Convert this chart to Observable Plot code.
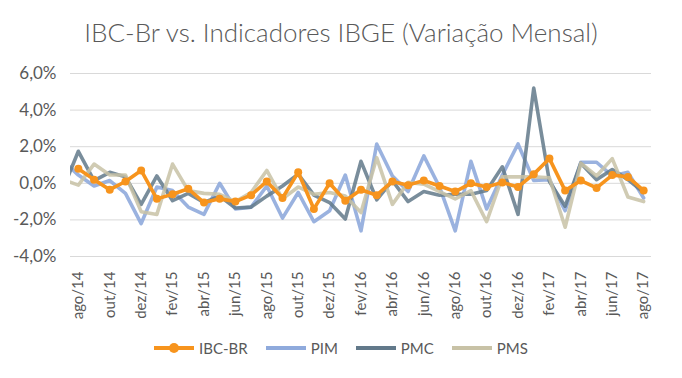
<!DOCTYPE html>
<html>
<head>
<meta charset="utf-8">
<script src="https://cdn.jsdelivr.net/npm/d3@7"></script>
<script src="https://cdn.jsdelivr.net/npm/@observablehq/plot@0.6"></script>
<style>
  html, body { margin: 0; padding: 0; background: #fff; }
  #wrap { position: relative; width: 682px; height: 378px; overflow: hidden; font-family: Lato, "Open Sans", sans-serif; color: #595959; }
  #title { position: absolute; left: 0; width: 682px; top: 16px; text-align: center; font-size: 26px; font-weight: 300; line-height: 32px; color: #595959; }
  #chart { position: absolute; left: 0; top: 55px; }
  #chart g[aria-label="y-axis tick label"] { font-size: 17px; }
  #chart g[aria-label="x-axis tick label"] { font-size: 15px; }
  #legend { position: absolute; left: 0; width: 682px; top: 338px; display: flex; justify-content: center; align-items: center; font-size: 15px; line-height: 20px; }
  .item { display: flex; align-items: center; margin: 0 9px; }
  .sw { position: relative; width: 40px; height: 4px; margin-right: 5px; }
  .dot { position: absolute; left: 15px; top: -3px; width: 10px; height: 10px; border-radius: 50%; }
</style>
</head>
<body>
<div id="wrap">
  <div id="title">IBC-Br vs. Indicadores IBGE (Variação Mensal)</div>
  <div id="chart"></div>
  <div id="legend"></div>
</div>
<script>
// Months (jul/14 only appears as the clipped start of PIM/PMC/PMS)
const months = ["jul/14","ago/14","set/14","out/14","nov/14","dez/14",
  "jan/15","fev/15","mar/15","abr/15","mai/15","jun/15","jul/15","ago/15","set/15","out/15","nov/15","dez/15",
  "jan/16","fev/16","mar/16","abr/16","mai/16","jun/16","jul/16","ago/16","set/16","out/16","nov/16","dez/16",
  "jan/17","fev/17","mar/17","abr/17","mai/17","jun/17","jul/17","ago/17"];

const seriesNames = ["IBC-BR", "PIM", "PMC", "PMS"];
const seriesColors = ["#F7941D", "#8FAADC", "#62798A", "#C8C2A6"];

const ibc = [null, 0.8, 0.2, -0.35, 0.1, 0.7,
  -0.85, -0.6, -0.3, -1.05, -0.85, -1.0, -0.65, 0.1, -0.8, 0.6, -1.4, 0.0,
  -0.95, -0.35, -0.65, 0.1, -0.1, 0.15, -0.15, -0.45, 0.0, -0.2, 0.05, -0.2,
  0.5, 1.35, -0.4, 0.15, -0.25, 0.45, 0.35, -0.4];

const pim = [1.25, 0.45, -0.15, 0.15, -0.55, -2.2,
  -0.2, -0.4, -1.3, -1.7, 0.0, -1.4, -1.3, -0.15, -1.9, -0.5, -2.1, -1.5,
  0.45, -2.6, 2.15, 0.4, -0.45, 1.5, -0.2, -2.6, 1.2, -1.4, 0.45, 2.15,
  0.15, 0.2, -1.5, 1.15, 1.15, 0.4, 0.6, -0.8];

const pmc = [-0.35, 1.75, 0.15, 0.6, 0.35, -1.15,
  0.4, -0.95, -0.55, -1.05, -0.7, -1.35, -1.3, -0.7, -0.15, 0.5, -0.65, -1.05,
  -1.95, 1.2, -0.9, 0.15, -1.0, -0.45, -0.65, -0.6, -0.6, -0.4, 0.9, -1.7,
  5.2, 0.1, -1.25, 1.1, 0.2, 0.75, 0.2, -0.5];

const pms = [0.2, -0.1, 1.05, 0.45, 0.45, -1.55,
  -1.7, 1.05, -0.4, -0.55, -0.6, -1.0, -0.5, 0.7, -0.85, -0.2, -0.6, -0.5,
  -0.7, -1.6, 1.4, -1.15, 0.05, -0.05, -0.45, -0.85, -0.4, -2.1, 0.35, 0.35,
  0.35, 0.3, -2.4, 1.1, 0.4, 1.35, -0.75, -1.0];

const yTicks = [-4, -2, 0, 2, 4, 6];
const xTicks = d3.range(0, 37, 2);

const allValues = [ibc, pim, pmc, pms];
const rows = [];
allValues.forEach((arr, s) => {
  arr.forEach((v, k) => {
    if (v !== null) rows.push({series: seriesNames[s], i: k - 1, label: months[k], v});
  });
});
const bySeries = name => rows.filter(d => d.series === name);

const fmtPct = d => d.toFixed(1).replace(".", ",") + "%";

const chart = Plot.plot({
  width: 682,
  height: 270,
  marginLeft: 70,
  marginRight: 31,
  marginTop: 18,
  marginBottom: 69,
  style: {fontFamily: "Lato, 'Open Sans', sans-serif", fontSize: "15px", color: "#595959", background: "transparent", overflow: "visible"},
  x: {type: "linear", domain: [-0.5, 36.5], label: null},
  y: {domain: [-4, 6], label: null},
  color: {domain: seriesNames, range: seriesColors},
  marks: [
    Plot.gridY(yTicks, {stroke: "#d9d9d9", strokeOpacity: 1, strokeWidth: 1}),
    Plot.axisY({ticks: yTicks, tickFormat: fmtPct, tickSize: 0, tickPadding: 14, fill: "#595959", label: null}),
    Plot.axisX({ticks: xTicks, tickFormat: i => months[i + 1], tickRotate: -90, tickSize: 0, tickPadding: 15, fill: "#595959", label: null}),
    Plot.lineY(bySeries("PIM"), {x: "i", y: "v", stroke: "series", strokeWidth: 3.6, strokeOpacity: 0.9, clip: true}),
    Plot.lineY(bySeries("PMC"), {x: "i", y: "v", stroke: "series", strokeWidth: 3.6, strokeOpacity: 0.85, clip: true}),
    Plot.lineY(bySeries("PMS"), {x: "i", y: "v", stroke: "series", strokeWidth: 3.6, strokeOpacity: 0.85, clip: true}),
    Plot.lineY(bySeries("IBC-BR"), {x: "i", y: "v", stroke: "series", strokeWidth: 3.6, clip: true}),
    Plot.dot(bySeries("IBC-BR"), {x: "i", y: "v", fill: "series", r: 4, stroke: "none"})
  ]
});
document.getElementById("chart").appendChild(chart);

const legend = document.getElementById("legend");
seriesNames.forEach((name, s) => {
  const item = document.createElement("div");
  item.className = "item";
  const sw = document.createElement("div");
  sw.className = "sw";
  sw.style.background = seriesColors[s];
  if (s === 0) {
    const dot = document.createElement("div");
    dot.className = "dot";
    dot.style.background = seriesColors[s];
    sw.appendChild(dot);
  }
  const t = document.createElement("span");
  t.textContent = name;
  item.appendChild(sw);
  item.appendChild(t);
  legend.appendChild(item);
});
</script>
</body>
</html>
